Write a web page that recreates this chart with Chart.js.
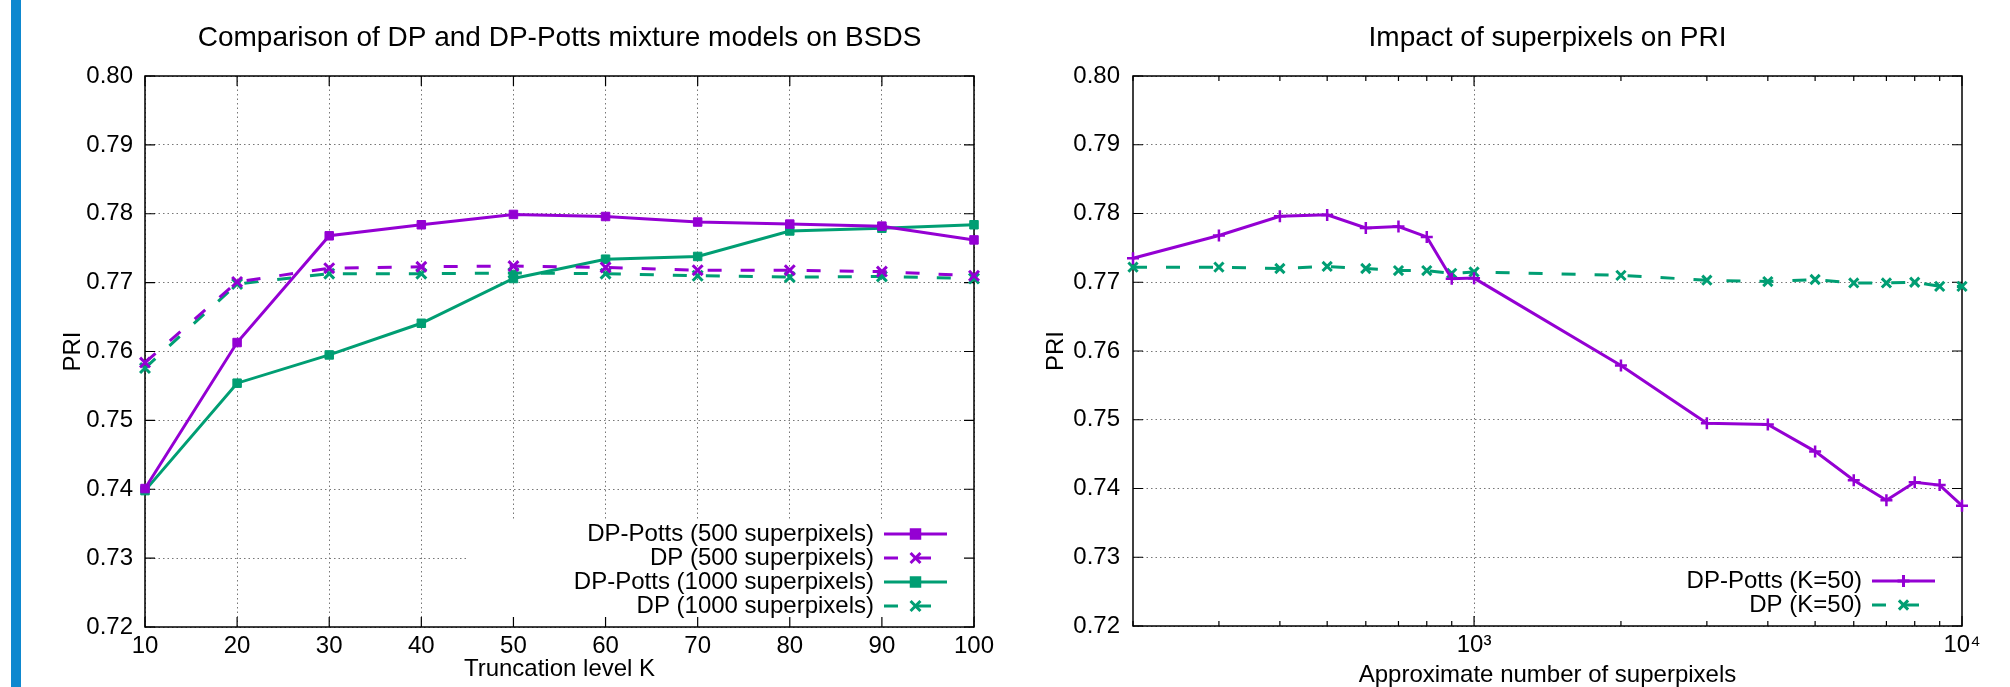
<!DOCTYPE html>
<html>
<head>
<meta charset="utf-8">
<script src="https://cdn.jsdelivr.net/npm/chart.js@4/dist/chart.umd.min.js"></script>
<style>
    html, body { margin: 0; padding: 0; background: #fff; overflow: hidden; }
    #barra { position: absolute; left: 11px; top: 0; width: 10px; height: 687px; background: #0e88cf; }
    canvas { position: absolute; top: 0; }
</style>
</head>
<body>
<div id="barra"></div>
<canvas id="truncamiento" width="1005" height="687" style="left:0"></canvas>
<canvas id="superpixeles" width="1005" height="687" style="left:1005px"></canvas>
<script>
// datos
var nivelesK = [10, 20, 30, 40, 50, 60, 70, 80, 90, 100];
var pottsSp500 = [0.7401, 0.7613, 0.7768, 0.7784, 0.7799, 0.7796, 0.7788, 0.7785, 0.7782, 0.7762];
var dpSp500 = [0.7584, 0.7701, 0.7721, 0.7723, 0.7724, 0.7722, 0.7718, 0.7718, 0.7716, 0.7710];
var pottsSp1000 = [0.7398, 0.7554, 0.7595, 0.7641, 0.7706, 0.7734, 0.7738, 0.7775, 0.7779, 0.7784];
var dpSp1000 = [0.7576, 0.7698, 0.7713, 0.7713, 0.7714, 0.7713, 0.7710, 0.7708, 0.7709, 0.7706];

var numSuperpixeles = [200, 300, 400, 500, 600, 700, 800, 900, 1000, 2000, 3000, 4000, 5000, 6000, 7000, 8000, 9000, 10000];
var pottsK50 = [0.7735, 0.7768, 0.7796, 0.7798, 0.7779, 0.7781, 0.7766, 0.7705, 0.7706, 0.7579, 0.7495, 0.7493, 0.7454, 0.7412, 0.7383, 0.7409, 0.7405, 0.7375];
var dpK50 = [0.7722, 0.7722, 0.7720, 0.7723, 0.7720, 0.7717, 0.7717, 0.7713, 0.7715, 0.7710, 0.7703, 0.7701, 0.7704, 0.7699, 0.7699, 0.7700, 0.7694, 0.7694];

var ticksPRI = [0.72, 0.73, 0.74, 0.75, 0.76, 0.77, 0.78, 0.79, 0.80];
var ticksK = [10, 20, 30, 40, 50, 60, 70, 80, 90, 100];
var ticksLog = [200, 300, 400, 500, 600, 700, 800, 900, 1000, 2000, 3000, 4000, 5000, 6000, 7000, 8000, 9000, 10000];
var etiquetasLog = {1000: '10³', 10000: '10⁴'};

var VIOLETA = '#9400d3';
var VERDE = '#009e73';
var FUENTE = '"Liberation Sans", Arial, Helvetica, sans-serif';

Chart.defaults.font.family = FUENTE;
Chart.defaults.font.size = 24;
Chart.defaults.color = '#000';

function puntos(xs, ys) {
    return xs.map(function (x, i) { return {x: x, y: ys[i]}; });
}

function serie(label, xs, ys, color, discontinua, estilo, radio, grosorPunto) {
    return {
        label: label,
        data: puntos(xs, ys),
        borderColor: color,
        backgroundColor: color,
        pointBackgroundColor: color,
        pointBorderColor: color,
        borderWidth: 3,
        borderDash: discontinua ? [14, 19] : [],
        pointStyle: estilo,
        pointRadius: radio,
        pointBorderWidth: grosorPunto,
        tension: 0,
        fill: false,
        clip: false
    };
}

// borde, ticks hacia adentro y caja blanca de la leyenda
var marco = {
    id: 'marco',
    beforeDatasetsDraw: function (chart, args, opts) {
        var ctx = chart.ctx, a = chart.chartArea;
        var sx = chart.scales.x, sy = chart.scales.y;
        ctx.save();
        ctx.fillStyle = '#fff';
        ctx.fillRect(a.right - opts.cajaAncho, a.bottom - opts.cajaAlto, opts.cajaAncho, opts.cajaAlto);
        ctx.strokeStyle = '#000';
        ctx.lineWidth = 1.2;
        ctx.beginPath();
        sx.ticks.forEach(function (t) {
            var px = sx.getPixelForValue(t.value);
            var largo = (!opts.mayoresX || opts.mayoresX.indexOf(t.value) >= 0) ? 10 : 5;
            ctx.moveTo(px, a.bottom); ctx.lineTo(px, a.bottom - largo);
            ctx.moveTo(px, a.top); ctx.lineTo(px, a.top + largo);
        });
        sy.ticks.forEach(function (t) {
            var py = sy.getPixelForValue(t.value);
            ctx.moveTo(a.left, py); ctx.lineTo(a.left + 10, py);
            ctx.moveTo(a.right, py); ctx.lineTo(a.right - 10, py);
        });
        ctx.stroke();
        ctx.lineWidth = 1.5;
        ctx.strokeRect(a.left, a.top, a.right - a.left, a.bottom - a.top);
        ctx.restore();
    },
    afterDraw: function (chart, args, opts) {
        var ctx = chart.ctx, a = chart.chartArea;
        var sets = chart.data.datasets;
        ctx.save();
        // titulo
        ctx.font = '28px ' + FUENTE;
        ctx.fillStyle = '#000';
        ctx.textAlign = 'center';
        ctx.textBaseline = 'middle';
        ctx.fillText(opts.titulo, (a.left + a.right) / 2, 38);
        // leyenda
        ctx.font = '24px ' + FUENTE;
        ctx.textAlign = 'right';
        sets.forEach(function (ds, i) {
            var yy = a.bottom - 21 - (sets.length - 1 - i) * 24;
            var x0 = a.right - 90, x1 = a.right - 27;
            ctx.fillStyle = '#000';
            ctx.fillText(ds.label, a.right - 100, yy);
            ctx.strokeStyle = ds.borderColor;
            ctx.lineWidth = ds.borderWidth;
            ctx.setLineDash(ds.borderDash);
            ctx.beginPath();
            ctx.moveTo(x0, yy);
            ctx.lineTo(x1, yy);
            ctx.stroke();
            ctx.setLineDash([]);
            ctx.fillStyle = ds.pointBackgroundColor;
            Chart.helpers.drawPoint(ctx, {
                pointStyle: ds.pointStyle,
                radius: ds.pointRadius,
                rotation: 0,
                borderWidth: ds.pointBorderWidth
            }, (x0 + x1) / 2, yy);
            ctx.lineWidth = ds.pointBorderWidth;
        });
        ctx.restore();
    }
};

function ejeY(ancho, padTitulo, padTicks) {
    return {
        type: 'linear',
        min: 0.72,
        max: 0.80,
        afterBuildTicks: function (s) { s.ticks = ticksPRI.map(function (v) { return {value: v}; }); },
        afterFit: function (s) { s.width = ancho; },
        ticks: {
            padding: padTicks,
            callback: function (v) { return Number(v).toFixed(2); }
        },
        grid: { color: '#777', lineWidth: 1, drawTicks: false },
        border: { display: false, dash: [1.5, 3] },
        title: {
            display: true,
            text: 'PRI',
            font: { size: 24, lineHeight: 1 },
            padding: { top: padTitulo, bottom: 0 }
        }
    };
}

new Chart(document.getElementById('truncamiento'), {
    type: 'line',
    data: {
        datasets: [
            serie('DP-Potts (500 superpixels)', nivelesK, pottsSp500, VIOLETA, false, 'rect', 6, 1),
            serie('DP (500 superpixels)', nivelesK, dpSp500, VIOLETA, true, 'crossRot', 7, 3),
            serie('DP-Potts (1000 superpixels)', nivelesK, pottsSp1000, VERDE, false, 'rect', 6, 1),
            serie('DP (1000 superpixels)', nivelesK, dpSp1000, VERDE, true, 'crossRot', 7, 3)
        ]
    },
    options: {
        responsive: false,
        animation: false,
        devicePixelRatio: 1,
        layout: { padding: { left: 0, right: 31, top: 76, bottom: 0 } },
        plugins: {
            legend: { display: false },
            tooltip: { enabled: false },
            marco: { titulo: 'Comparison of DP and DP-Potts mixture models on BSDS', cajaAncho: 506, cajaAlto: 106, mayoresX: null }
        },
        scales: {
            x: {
                type: 'linear',
                min: 10,
                max: 100,
                afterBuildTicks: function (s) { s.ticks = ticksK.map(function (v) { return {value: v}; }); },
                afterFit: function (s) { s.height = 60; },
                ticks: { padding: 5, maxRotation: 0, autoSkip: false },
                grid: { color: '#777', lineWidth: 1, drawTicks: false },
                border: { display: false, dash: [1.5, 3] },
                title: {
                    display: true,
                    text: 'Truncation level K',
                    font: { size: 24, lineHeight: 1 },
                    padding: { top: 0, bottom: 6 }
                }
            },
            y: ejeY(145, 61, 12)
        }
    },
    plugins: [marco]
});

new Chart(document.getElementById('superpixeles'), {
    type: 'line',
    data: {
        datasets: [
            serie('DP-Potts (K=50)', numSuperpixeles, pottsK50, VIOLETA, false, 'cross', 6, 2.5),
            serie('DP (K=50)', numSuperpixeles, dpK50, VERDE, true, 'crossRot', 6.5, 3)
        ]
    },
    options: {
        responsive: false,
        animation: false,
        devicePixelRatio: 1,
        layout: { padding: { left: 0, right: 48, top: 76, bottom: 0 } },
        plugins: {
            legend: { display: false },
            tooltip: { enabled: false },
            marco: { titulo: 'Impact of superpixels on PRI', cajaAncho: 300, cajaAlto: 56, mayoresX: [1000, 10000] }
        },
        scales: {
            x: {
                type: 'logarithmic',
                min: 200,
                max: 10000,
                afterBuildTicks: function (s) { s.ticks = ticksLog.map(function (v) { return {value: v}; }); },
                afterFit: function (s) { s.height = 61; },
                ticks: {
                    padding: 5,
                    maxRotation: 0,
                    autoSkip: false,
                    callback: function (v) { return etiquetasLog[v] || ''; }
                },
                grid: {
                    color: function (c) { return c.tick && c.tick.value === 1000 ? '#777' : 'rgba(0,0,0,0)'; },
                    lineWidth: 1,
                    drawTicks: false
                },
                border: { display: false, dash: [1.5, 3] },
                title: {
                    display: true,
                    text: 'Approximate number of superpixels',
                    font: { size: 24, lineHeight: 1 },
                    padding: { top: 0, bottom: 0 }
                }
            },
            y: ejeY(128, 39, 13)
        }
    },
    plugins: [marco]
});
</script>
</body>
</html>
